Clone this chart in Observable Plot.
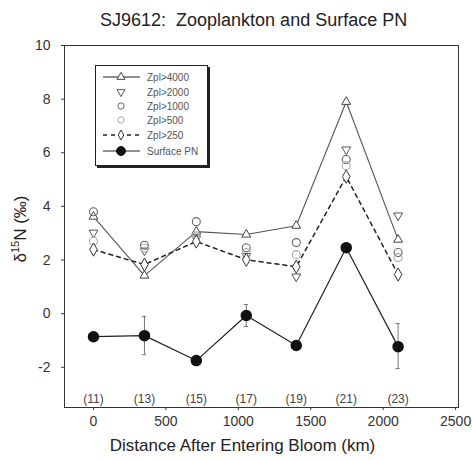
<!DOCTYPE html>
<html>
<head>
<meta charset="utf-8">
<script src="https://cdn.jsdelivr.net/npm/d3@7"></script>
<script src="https://cdn.jsdelivr.net/npm/@observablehq/plot@0.6"></script>
<style>
  html, body { margin: 0; padding: 0; background: #fff; }
  body { width: 472px; height: 460px; position: relative; overflow: hidden; font-family: "Liberation Sans", Arial, sans-serif; }
  #title { height: 34px; line-height: 40px; font-size: 18px; color: #222; white-space: pre; padding-left: 100px; }
  #legend { position: absolute; left: 95px; top: 65px; width: 111px; height: 99px; border: 1px solid #222; box-shadow: 2px 2px 0 #222; background: #fff; }
</style>
</head>
<body>
<div id="title">SJ9612:  Zooplankton and Surface PN</div>
<div id="chart"></div>
<div id="legend"></div>
<script>
// ---- data ----
const dist = [0, 352, 710, 1055, 1400, 1745, 2103];
const stations = ["(11)", "(13)", "(15)", "(17)", "(19)", "(21)", "(23)"];
const zpl4000 = [3.62, 1.42, 3.06, 2.95, 3.28, 7.9, 2.76];
const zpl2000 = [3.02, 2.35, 2.8, 2.15, 1.38, 6.12, 3.66];
const zpl1000 = [3.8, 2.55, 3.43, 2.46, 2.65, 5.75, 2.28];
const zpl500 = [2.7, 2.45, 2.9, 2.28, 2.2, 5.52, 2.09];
const zpl250 = [2.39, 1.83, 2.69, 2.01, 1.75, 5.11, 1.46];
const surfacePN = [-0.86, -0.82, -1.75, -0.07, -1.19, 2.46, -1.23];
const pnErrLow = [null, -1.53, null, -0.48, null, null, -2.05];
const pnErrHigh = [null, -0.11, null, 0.34, null, null, -0.37];
const xTicks = [0, 500, 1000, 1500, 2000, 2500];
const yTicks = [-2, 0, 2, 4, 6, 8, 10];
const stationLabelY = -3.2;

const rows = dist.map((x, i) => ({
  x, station: stations[i],
  z4000: zpl4000[i], z2000: zpl2000[i], z1000: zpl1000[i], z500: zpl500[i], z250: zpl250[i],
  pn: surfacePN[i], lo: pnErrLow[i], hi: pnErrHigh[i]
}));
const errRows = rows.filter(d => d.lo != null);

const chart = Plot.plot({
  width: 472,
  height: 426,
  marginLeft: 64,
  marginRight: 14,
  marginTop: 11,
  marginBottom: 53,
  style: { fontFamily: "Liberation Sans, Arial, sans-serif", fontSize: "14px", color: "#333", background: "#fff" },
  x: { domain: [-200, 2520], ticks: xTicks, tickFormat: d => String(d), tickSize: 3, tickPadding: 6, label: null },
  y: { domain: [-3.5, 10], ticks: yTicks, tickFormat: d => String(d), tickSize: 3, tickPadding: 11, label: null },
  marks: [
    Plot.frame({ stroke: "#333" }),
    Plot.line(rows, { x: "x", y: "z4000", stroke: "#555", strokeWidth: 1.1 }),
    Plot.line(rows, { x: "x", y: "z250", stroke: "#222", strokeWidth: 1.5, strokeDasharray: "4,4" }),
    Plot.line(rows, { x: "x", y: "pn", stroke: "#222", strokeWidth: 1.2 }),
    Plot.ruleX(errRows, { x: "x", y1: "lo", y2: "hi", stroke: "#777", strokeWidth: 1 }),
    Plot.ruleY(errRows, { y: "lo", x1: d => d.x - 15, x2: d => d.x + 15, stroke: "#777" }),
    Plot.ruleY(errRows, { y: "hi", x1: d => d.x - 15, x2: d => d.x + 15, stroke: "#777" }),
    Plot.dot(rows, { x: "x", y: "z4000", symbol: "triangle", r: 3.3, stroke: "#444", fill: "#fff", strokeWidth: 1 }),
    Plot.dot(rows, { x: "x", y: "z2000", symbol: "triangle", rotate: 180, r: 3.3, stroke: "#555", fill: "none", strokeWidth: 1 }),
    Plot.dot(rows, { x: "x", y: "z1000", r: 4, stroke: "#666", fill: "none", strokeWidth: 1.1 }),
    Plot.dot(rows, { x: "x", y: "z500", r: 4, stroke: "#aaa", fill: "none", strokeWidth: 1.1 }),
    Plot.dot(rows, { x: "x", y: "z250", symbol: "diamond", r: 4, stroke: "#333", fill: "#fff", strokeWidth: 1 }),
    Plot.dot(rows, { x: "x", y: "pn", r: 5, fill: "#111", stroke: "#111" }),
    Plot.text(rows, { x: "x", y: () => stationLabelY, text: "station", fontSize: 12, fill: "#444" }),
    Plot.text(["Distance After Entering Bloom (km)"], { frameAnchor: "bottom", dy: 38, dx: -19, fontSize: 17, fill: "#222", lineAnchor: "middle" })
  ]
});
document.getElementById("chart").appendChild(chart);

// y-axis label with superscript
const svg = d3.select(chart);
const yl = svg.append("text")
  .attr("transform", "translate(26,195) rotate(-90)")
  .attr("text-anchor", "middle")
  .attr("font-size", 17)
  .attr("fill", "#222")
  .attr("font-family", "Liberation Sans, Arial, sans-serif");
yl.append("tspan").text("δ");
yl.append("tspan").attr("dy", -7).attr("font-size", 11).text("15");
yl.append("tspan").attr("dy", 7).text("N (‰)");

// legend
const legendItems = [
  { label: "Zpl>4000", symbol: d3.symbolTriangle, rotate: 0, stroke: "#444", fill: "#fff", line: "solid" },
  { label: "Zpl>2000", symbol: d3.symbolTriangle, rotate: 180, stroke: "#555", fill: "none", line: null },
  { label: "Zpl>1000", symbol: d3.symbolCircle, rotate: 0, stroke: "#666", fill: "none", line: null },
  { label: "Zpl>500", symbol: d3.symbolCircle, rotate: 0, stroke: "#aaa", fill: "none", line: null },
  { label: "Zpl>250", symbol: d3.symbolDiamond, rotate: 0, stroke: "#333", fill: "#fff", line: "dash" },
  { label: "Surface PN", symbol: d3.symbolCircle, rotate: 0, stroke: "#111", fill: "#111", line: "solid", big: true }
];
const lg = d3.select("#legend").append("svg").attr("width", 111).attr("height", 99);
const rowY = [11, 26, 40, 54, 69, 85];
legendItems.forEach((it, i) => {
  const g = lg.append("g").attr("transform", `translate(0,${rowY[i]})`);
  if (it.line) {
    g.append("line").attr("x1", 7).attr("x2", 44).attr("y1", 0).attr("y2", 0)
      .attr("stroke", "#222").attr("stroke-width", it.line === "dash" ? 1.5 : 1.1)
      .attr("stroke-dasharray", it.line === "dash" ? "4,4" : null);
  }
  const size = it.big ? Math.PI * 20 : (it.symbol === d3.symbolCircle ? Math.PI * 10 : 28);
  g.append("path").attr("d", d3.symbol(it.symbol, size)())
    .attr("transform", `translate(25,0) rotate(${it.rotate})`)
    .attr("stroke", it.stroke).attr("fill", it.fill);
  g.append("text").attr("x", 51).attr("y", 0).attr("dy", "0.35em")
    .attr("font-size", 10).attr("fill", "#555")
    .attr("font-family", "Liberation Sans, Arial, sans-serif").text(it.label);
});
</script>
</body>
</html>
